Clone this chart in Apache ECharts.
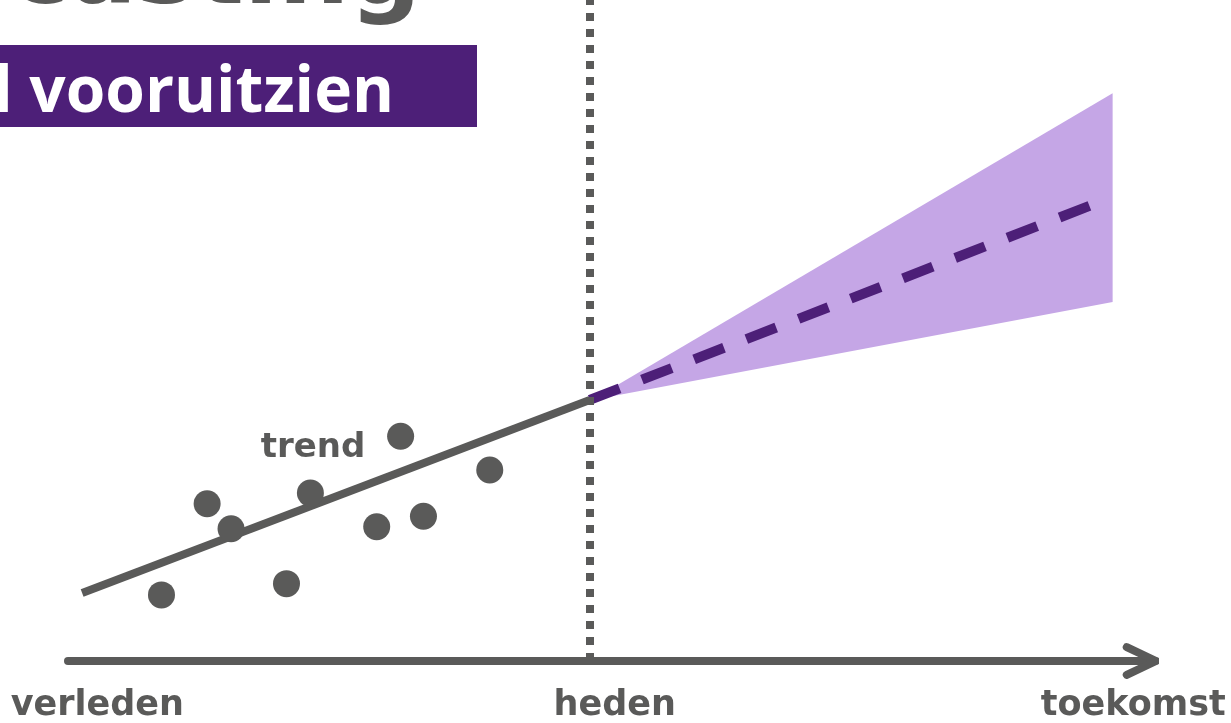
<!DOCTYPE html>
<html lang="nl">
<head>
<meta charset="UTF-8">
<title>Forecasting</title>
<script src="https://cdn.jsdelivr.net/npm/echarts@6/dist/echarts.min.js"></script>
<style>
  html, body { margin: 0; padding: 0; background: #fff; }
  #content { width: 1231px; height: 723px; }
</style>
</head>
<body>
<div id="content"></div>
<script>
// tijd-as: labels en hun plek op de as (0..100)
var tijdLabels = ['verleden', 'heden', 'toekomst'];
var tijdPlek = [2.7, 50.3, 98.0];
var heden = 48;

// waarnemingen uit het verleden
var puntenX = [8.6, 12.8, 15.0, 20.1, 22.3, 28.4, 30.6, 32.7, 38.8];
var puntenY = [10.0, 23.8, 20.0, 11.7, 25.4, 20.3, 34.0, 21.9, 28.9];

// trendlijn en prognose
var trendX = [1.3, 48];
var trendY = [10.3, 39.5];
var prognoseX = [48, 94.2];
var prognoseY = [39.5, 69.0];

// onzekerheidsband
var bandX = [48.2, 96.1];
var bandLaag = [39.5, 54.3];
var bandHoog = [39.5, 85.9];

// pijlpunt aan het einde van de as
var pijlX = [97.4, 100.1, 97.4];
var pijlY = [2.1, 0, -2.1];

var grijs = '#5a5a59';
var paars = '#4d1f78';
var lichtPaars = '#c5a6e6';
var font = '"DejaVu Sans", sans-serif';

function paren(xs, ys) {
    return xs.map(function (x, i) { return [x, ys[i]]; });
}

var myChart = echarts.init(document.getElementById('content'));

var option = {
    animation: false,
    backgroundColor: '#fff',
    grid: { left: 68, right: 76, top: 0, bottom: 62 },
    xAxis: {
        type: 'value',
        min: 0,
        max: 100,
        splitLine: { show: false },
        axisTick: { show: false },
        axisLine: { show: true, lineStyle: { color: grijs, width: 8 } },
        axisLabel: {
            customValues: tijdPlek,
            formatter: function (v) {
                var i = tijdPlek.indexOf(v);
                return i >= 0 ? tijdLabels[i] : '';
            },
            color: grijs,
            fontFamily: font,
            fontWeight: 'bold',
            fontSize: 35,
            margin: 27
        }
    },
    yAxis: { type: 'value', min: 0, max: 100, show: false },
    graphic: [
        {
            type: 'text', x: 421, y: -23, z: 10,
            style: {
                text: 'Forecasting', fill: grijs, font: 'bold 100px ' + font,
                textAlign: 'right', textVerticalAlign: 'middle'
            }
        },
        {
            type: 'rect', x: 0, y: 45, z: 10,
            shape: { width: 477, height: 82 },
            style: { fill: paars }
        },
        {
            type: 'text', x: 394, y: 94, z: 11,
            style: {
                text: 'l vooruitzien', fill: '#fff', font: 'bold 64px "Open Sans", sans-serif',
                textAlign: 'right', textVerticalAlign: 'middle'
            }
        },
        {
            type: 'text', x: 313, y: 448, z: 11,
            style: {
                text: 'trend', fill: grijs, font: 'bold 34px ' + font,
                textAlign: 'center', textVerticalAlign: 'middle'
            }
        }
    ],
    series: [
        {
            type: 'custom',
            data: paren(bandX, bandLaag),
            z: 1,
            renderItem: function (params, api) {
                if (params.dataIndex !== 0) return null;
                var pts = [];
                for (var i = 0; i < bandX.length; i++) pts.push(api.coord([bandX[i], bandHoog[i]]));
                for (var j = bandX.length - 1; j >= 0; j--) pts.push(api.coord([bandX[j], bandLaag[j]]));
                return { type: 'polygon', shape: { points: pts }, style: { fill: lichtPaars } };
            }
        },
        {
            type: 'line',
            data: paren(trendX, trendY),
            symbol: 'none',
            z: 3,
            lineStyle: { color: grijs, width: 8, cap: 'butt' },
            markLine: {
                silent: true,
                symbol: 'none',
                label: { show: false },
                lineStyle: { color: grijs, width: 8, type: [8, 8], cap: 'butt' },
                data: [{ xAxis: heden }]
            }
        },
        {
            type: 'line',
            data: paren(prognoseX, prognoseY),
            symbol: 'none',
            z: 4,
            lineStyle: { color: paars, width: 10, type: [32, 24], cap: 'butt' }
        },
        {
            type: 'scatter',
            data: paren(puntenX, puntenY),
            symbol: 'circle',
            symbolSize: 27,
            z: 5,
            itemStyle: { color: grijs, opacity: 1 }
        },
        {
            type: 'line',
            data: paren(pijlX, pijlY),
            symbol: 'none',
            clip: false,
            z: 5,
            lineStyle: { color: grijs, width: 8, cap: 'round', join: 'round' }
        }
    ]
};

myChart.setOption(option);
</script>
</body>
</html>
